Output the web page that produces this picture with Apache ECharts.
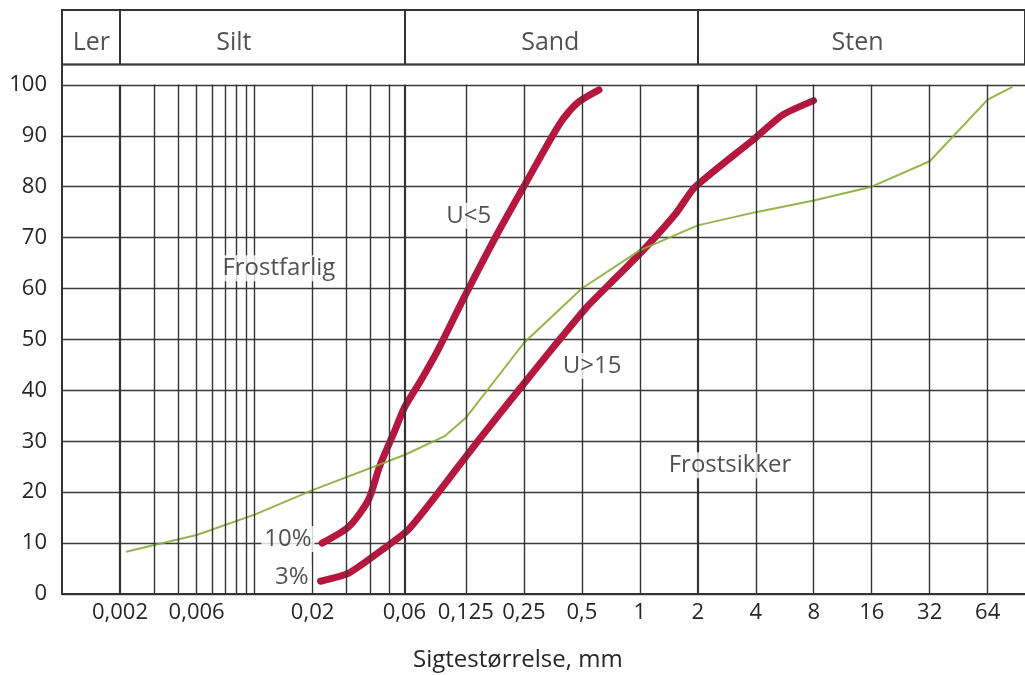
<!DOCTYPE html>
<html>
<head>
<meta charset="utf-8">
<script src="https://cdn.jsdelivr.net/npm/echarts@6/dist/echarts.min.js"></script>
<style>html,body{margin:0;padding:0;background:#fff}#c{width:1025px;height:675px}</style>
</head>
<body>
<div id="c"></div>
<script>
// ---- data (grain size in mm, percent passing) ----
const uLt5Size = [0.0224, 0.0308, 0.039, 0.0445, 0.0536, 0.0603, 0.0731, 0.0895, 0.123, 0.183, 0.261, 0.386, 0.473, 0.614];
const uLt5Pct  = [10, 13.2, 18.5, 25, 32.2, 36.8, 42, 47.9, 58.4, 70.9, 81.3, 92.5, 96.4, 99];

const uGt15Size = [0.022, 0.0308, 0.0456, 0.0627, 0.0895, 0.144, 0.251, 0.358, 0.532, 0.76, 1.045, 1.55, 1.92, 3.87, 5.52, 7.98];
const uGt15Pct  = [2.5, 4.1, 8.6, 12.6, 19.8, 30, 41.4, 48.6, 56.4, 62.3, 67.6, 74.9, 79.8, 89.2, 94.1, 96.9];

const sampleSize = [0.00215, 0.005, 0.01, 0.02, 0.06, 0.097, 0.125, 0.25, 0.5, 1, 2, 4, 8, 16, 32, 64, 86];
const samplePct  = [8.3, 11.6, 15.6, 20.4, 27.3, 31, 34.6, 49.3, 60, 67.5, 72.4, 75, 77.3, 80, 85, 97.1, 99.6];

// x tick labels
const tickAt   = [0.002, 0.005, 0.02, 0.06, 0.125, 0.25, 0.5, 1, 2, 4, 8, 16, 32, 64];
const tickText = ['0,002', '0,006', '0,02', '0,06', '0,125', '0,25', '0,5', '1', '2', '4', '8', '16', '32', '64'];

// vertical grid lines
const gridMinor = [0.003, 0.004, 0.005, 0.006, 0.007, 0.008, 0.009, 0.01, 0.02, 0.03, 0.04, 0.05, 0.125, 0.25, 0.5, 1, 4, 8, 16, 32, 64];
const gridMajor = [0.002, 0.06, 2];

// soil zones header
const zoneNames   = ['Ler', 'Silt', 'Sand', 'Sten'];
const zoneLabelAt = [0.00142, 0.0078, 0.343, 13.5];
const zoneBounds  = [0.002, 0.06, 2];

// annotations
const annoText = ['U<5', 'U>15', 'Frostfarlig', 'Frostsikker', '10%', '3%'];
const annoSize = [0.1294, 0.565, 0.01337, 2.94, 0.0149, 0.0156];
const annoPct  = [74.3, 44.8, 64.0, 25.3, 10.8, 3.3];

const yTicks = [0, 10, 20, 30, 40, 50, 60, 70, 80, 90, 100];

// ---- chart ----
const FONT = '"Open Sans", "Noto Sans", sans-serif';
const TXT = '#262626';
const LINE = '#333';
const pair = (xs, ys) => xs.map((x, i) => [x, ys[i]]);
const near = (a, b) => Math.abs(Math.log10(a) - Math.log10(b)) < 1e-4;

const chart = echarts.init(document.getElementById('c'), null, {renderer: 'canvas'});

const vLine = (v, w) => [{coord: [v, 0], lineStyle: {width: w, color: LINE, type: 'solid'}}, {coord: [v, 100]}];

chart.setOption({
  animation: false,
  backgroundColor: '#fff',
  title: {
    text: 'Sigtestørrelse, mm',
    left: 408, top: 643,
    textStyle: {fontFamily: FONT, fontSize: 24, fontWeight: 'normal', color: TXT}
  },
  grid: [
    {left: 62, top: 64.5, width: 969, height: 529.5, show: false},
    {left: 62, top: 10, width: 969, height: 54.5, show: true, borderColor: LINE, borderWidth: 2, backgroundColor: 'transparent'}
  ],
  xAxis: [
    {
      type: 'log', logBase: 10, min: 0.001, max: 100, gridIndex: 0,
      axisLine: {show: true, lineStyle: {color: LINE, width: 2}},
      axisTick: {show: false},
      splitLine: {show: false},
      axisLabel: {
        customValues: tickAt,
        margin: 8,
        fontFamily: FONT, fontSize: 22, color: TXT,
        formatter: (v) => { const i = tickAt.findIndex(t => near(t, v)); return i >= 0 ? tickText[i] : ''; }
      }
    },
    {
      type: 'log', logBase: 10, min: 0.001, max: 100, gridIndex: 1, show: false
    }
  ],
  yAxis: [
    {
      type: 'value', min: 0, max: 104, interval: 10, gridIndex: 0,
      axisLine: {show: true, lineStyle: {color: LINE, width: 2}},
      axisTick: {show: false},
      splitLine: {show: true, lineStyle: {color: '#3a3a3a', width: 1.4}},
      axisLabel: {
        margin: 15, fontFamily: FONT, fontSize: 22, color: TXT,
        formatter: (v) => yTicks.indexOf(v) >= 0 ? String(v) : ''
      }
    },
    {type: 'value', min: 0, max: 1, gridIndex: 1, show: false}
  ],
  series: [
    {
      name: 'grid', type: 'line', xAxisIndex: 0, yAxisIndex: 0, data: [], z: 1, silent: true,
      markLine: {
        symbol: ['none', 'none'], silent: true, label: {show: false}, animation: false,
        data: gridMinor.map(v => vLine(v, 1.4)).concat(gridMajor.map(v => vLine(v, 2.2)))
      }
    },
    {
      name: 'zones', type: 'line', xAxisIndex: 1, yAxisIndex: 1, data: [], z: 1, silent: true,
      markLine: {
        symbol: ['none', 'none'], silent: true, label: {show: false}, animation: false,
        data: zoneBounds.map(v => [{coord: [v, 0], lineStyle: {width: 2, color: LINE, type: 'solid'}}, {coord: [v, 1]}])
      }
    },
    {
      name: 'zoneLabels', type: 'scatter', xAxisIndex: 1, yAxisIndex: 1, symbolSize: 0, silent: true, z: 5,
      data: zoneNames.map((n, i) => ({name: n, value: [zoneLabelAt[i], 0.4]})),
      label: {show: true, position: 'inside', formatter: p => p.name, fontFamily: FONT, fontSize: 25, color: TXT}
    },
    {
      name: 'U<5', type: 'line', data: pair(uLt5Size, uLt5Pct), showSymbol: false, smooth: 0.25, z: 3,
      lineStyle: {color: '#b5173f', width: 7, cap: 'round', join: 'round'}
    },
    {
      name: 'U>15', type: 'line', data: pair(uGt15Size, uGt15Pct), showSymbol: false, smooth: 0.2, z: 3,
      lineStyle: {color: '#b5173f', width: 7, cap: 'round', join: 'round'}
    },
    {
      name: 'Prøve', type: 'line', data: pair(sampleSize, samplePct), showSymbol: false, z: 4,
      lineStyle: {color: '#88ad38', width: 2, opacity: 0.9}
    },
    {
      name: 'annotations', type: 'scatter', symbolSize: 0, silent: true, z: 6,
      data: annoText.map((t, i) => ({name: t, value: [annoSize[i], annoPct[i]]})),
      label: {
        show: true, position: 'inside', formatter: p => p.name,
        fontFamily: FONT, fontSize: 24, color: TXT,
        backgroundColor: '#fff', padding: [1, 3]
      }
    }
  ]
});
</script>
</body>
</html>
